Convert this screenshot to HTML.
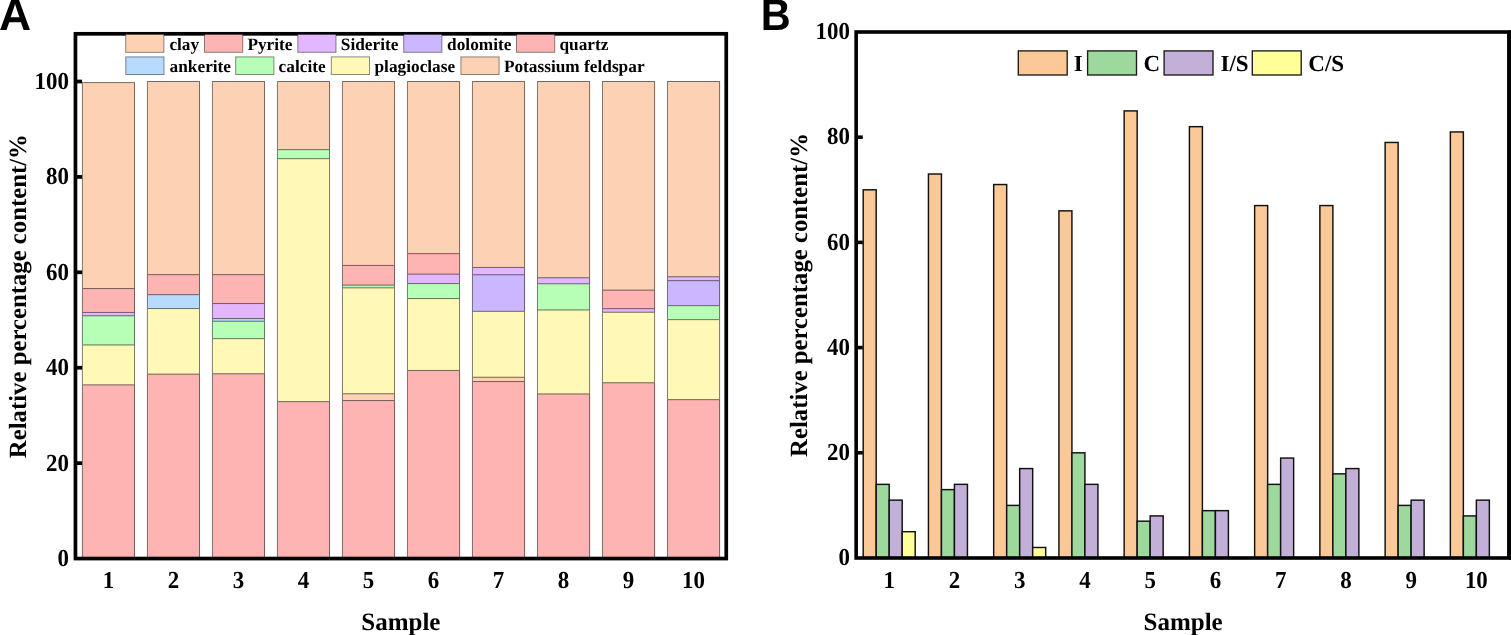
<!DOCTYPE html><html><head><meta charset="utf-8"><title>Mineral composition charts</title>
<style>html,body{margin:0;padding:0;background:#fff;overflow:hidden}svg{display:block}text{font-family:'Liberation Serif','Times New Roman',serif;font-weight:bold;fill:#000;text-rendering:geometricPrecision}</style></head><body>
<svg width="1511" height="635" viewBox="0 0 1511 635">
<rect x="0" y="0" width="1511" height="635" fill="#fff"/>
<g stroke-width="1">
<rect x="82.40" y="82.60" width="52.60" height="205.95" fill="#FDD1B4" stroke="none"/>
<rect x="82.40" y="288.55" width="52.60" height="23.90" fill="#FFB4B4" stroke="none"/>
<rect x="82.40" y="312.45" width="52.60" height="3.30" fill="#E3B7FF" stroke="none"/>
<rect x="82.40" y="315.75" width="52.60" height="29.20" fill="#B7FFB7" stroke="none"/>
<rect x="82.40" y="344.95" width="52.60" height="39.90" fill="#FFF8B7" stroke="none"/>
<rect x="82.40" y="384.85" width="52.60" height="173.70" fill="#FFB4B4" stroke="none"/>
<line x1="82.90" y1="82.60" x2="134.00" y2="82.60" stroke="rgba(0,0,0,0.55)"/>
<line x1="82.90" y1="288.55" x2="134.00" y2="288.55" stroke="rgba(0,0,0,0.55)"/>
<line x1="82.90" y1="312.45" x2="134.00" y2="312.45" stroke="rgba(0,0,0,0.55)"/>
<line x1="82.90" y1="315.75" x2="134.00" y2="315.75" stroke="rgba(0,0,0,0.55)"/>
<line x1="82.90" y1="344.95" x2="134.00" y2="344.95" stroke="rgba(0,0,0,0.55)"/>
<line x1="82.90" y1="384.85" x2="134.00" y2="384.85" stroke="rgba(0,0,0,0.55)"/>
<line x1="82.40" y1="82.10" x2="82.40" y2="558.55" stroke="rgba(0,0,0,0.5)"/>
<line x1="134.50" y1="82.10" x2="134.50" y2="558.55" stroke="rgba(0,0,0,0.5)"/>
<rect x="147.41" y="81.50" width="52.60" height="193.15" fill="#FDD1B4" stroke="none"/>
<rect x="147.41" y="274.65" width="52.60" height="20.00" fill="#FFB4B4" stroke="none"/>
<rect x="147.41" y="294.65" width="52.60" height="13.90" fill="#B7DBFF" stroke="none"/>
<rect x="147.41" y="308.55" width="52.60" height="65.60" fill="#FFF8B7" stroke="none"/>
<rect x="147.41" y="374.15" width="52.60" height="184.40" fill="#FFB4B4" stroke="none"/>
<line x1="147.91" y1="81.50" x2="199.01" y2="81.50" stroke="rgba(0,0,0,0.55)"/>
<line x1="147.91" y1="274.65" x2="199.01" y2="274.65" stroke="rgba(0,0,0,0.55)"/>
<line x1="147.91" y1="294.65" x2="199.01" y2="294.65" stroke="rgba(0,0,0,0.55)"/>
<line x1="147.91" y1="308.55" x2="199.01" y2="308.55" stroke="rgba(0,0,0,0.55)"/>
<line x1="147.91" y1="374.15" x2="199.01" y2="374.15" stroke="rgba(0,0,0,0.55)"/>
<line x1="147.41" y1="81.00" x2="147.41" y2="558.55" stroke="rgba(0,0,0,0.5)"/>
<line x1="199.51" y1="81.00" x2="199.51" y2="558.55" stroke="rgba(0,0,0,0.5)"/>
<rect x="212.42" y="81.50" width="52.60" height="193.15" fill="#FDD1B4" stroke="none"/>
<rect x="212.42" y="274.65" width="52.60" height="28.90" fill="#FFB4B4" stroke="none"/>
<rect x="212.42" y="303.55" width="52.60" height="15.00" fill="#E3B7FF" stroke="none"/>
<rect x="212.42" y="318.55" width="52.60" height="2.70" fill="#B7DBFF" stroke="none"/>
<rect x="212.42" y="321.25" width="52.60" height="17.40" fill="#B7FFB7" stroke="none"/>
<rect x="212.42" y="338.65" width="52.60" height="35.10" fill="#FFF8B7" stroke="none"/>
<rect x="212.42" y="373.75" width="52.60" height="184.80" fill="#FFB4B4" stroke="none"/>
<line x1="212.92" y1="81.50" x2="264.02" y2="81.50" stroke="rgba(0,0,0,0.55)"/>
<line x1="212.92" y1="274.65" x2="264.02" y2="274.65" stroke="rgba(0,0,0,0.55)"/>
<line x1="212.92" y1="303.55" x2="264.02" y2="303.55" stroke="rgba(0,0,0,0.55)"/>
<line x1="212.92" y1="318.55" x2="264.02" y2="318.55" stroke="rgba(0,0,0,0.55)"/>
<line x1="212.92" y1="321.25" x2="264.02" y2="321.25" stroke="rgba(0,0,0,0.55)"/>
<line x1="212.92" y1="338.65" x2="264.02" y2="338.65" stroke="rgba(0,0,0,0.55)"/>
<line x1="212.92" y1="373.75" x2="264.02" y2="373.75" stroke="rgba(0,0,0,0.55)"/>
<line x1="212.42" y1="81.00" x2="212.42" y2="558.55" stroke="rgba(0,0,0,0.5)"/>
<line x1="264.52" y1="81.00" x2="264.52" y2="558.55" stroke="rgba(0,0,0,0.5)"/>
<rect x="277.43" y="81.50" width="52.60" height="68.15" fill="#FDD1B4" stroke="none"/>
<rect x="277.43" y="149.65" width="52.60" height="9.00" fill="#B7FFB7" stroke="none"/>
<rect x="277.43" y="158.65" width="52.60" height="243.00" fill="#FFF8B7" stroke="none"/>
<rect x="277.43" y="401.65" width="52.60" height="156.90" fill="#FFB4B4" stroke="none"/>
<line x1="277.93" y1="81.50" x2="329.03" y2="81.50" stroke="rgba(0,0,0,0.55)"/>
<line x1="277.93" y1="149.65" x2="329.03" y2="149.65" stroke="rgba(0,0,0,0.55)"/>
<line x1="277.93" y1="158.65" x2="329.03" y2="158.65" stroke="rgba(0,0,0,0.55)"/>
<line x1="277.93" y1="401.65" x2="329.03" y2="401.65" stroke="rgba(0,0,0,0.55)"/>
<line x1="277.43" y1="81.00" x2="277.43" y2="558.55" stroke="rgba(0,0,0,0.5)"/>
<line x1="329.53" y1="81.00" x2="329.53" y2="558.55" stroke="rgba(0,0,0,0.5)"/>
<rect x="342.44" y="81.50" width="52.60" height="183.95" fill="#FDD1B4" stroke="none"/>
<rect x="342.44" y="265.45" width="52.60" height="19.70" fill="#FFB4B4" stroke="none"/>
<rect x="342.44" y="285.15" width="52.60" height="2.70" fill="#B7FFB7" stroke="none"/>
<rect x="342.44" y="287.85" width="52.60" height="105.90" fill="#FFF8B7" stroke="none"/>
<rect x="342.44" y="393.75" width="52.60" height="6.80" fill="#FDD1B4" stroke="none"/>
<rect x="342.44" y="400.55" width="52.60" height="158.00" fill="#FFB4B4" stroke="none"/>
<line x1="342.94" y1="81.50" x2="394.04" y2="81.50" stroke="rgba(0,0,0,0.55)"/>
<line x1="342.94" y1="265.45" x2="394.04" y2="265.45" stroke="rgba(0,0,0,0.55)"/>
<line x1="342.94" y1="285.15" x2="394.04" y2="285.15" stroke="rgba(0,0,0,0.55)"/>
<line x1="342.94" y1="287.85" x2="394.04" y2="287.85" stroke="rgba(0,0,0,0.55)"/>
<line x1="342.94" y1="393.75" x2="394.04" y2="393.75" stroke="rgba(0,0,0,0.55)"/>
<line x1="342.94" y1="400.55" x2="394.04" y2="400.55" stroke="rgba(0,0,0,0.55)"/>
<line x1="342.44" y1="81.00" x2="342.44" y2="558.55" stroke="rgba(0,0,0,0.5)"/>
<line x1="394.54" y1="81.00" x2="394.54" y2="558.55" stroke="rgba(0,0,0,0.5)"/>
<rect x="407.45" y="81.50" width="52.60" height="172.15" fill="#FDD1B4" stroke="none"/>
<rect x="407.45" y="253.65" width="52.60" height="20.50" fill="#FFB4B4" stroke="none"/>
<rect x="407.45" y="274.15" width="52.60" height="9.40" fill="#E3B7FF" stroke="none"/>
<rect x="407.45" y="283.55" width="52.60" height="15.00" fill="#B7FFB7" stroke="none"/>
<rect x="407.45" y="298.55" width="52.60" height="71.90" fill="#FFF8B7" stroke="none"/>
<rect x="407.45" y="370.45" width="52.60" height="188.10" fill="#FFB4B4" stroke="none"/>
<line x1="407.95" y1="81.50" x2="459.05" y2="81.50" stroke="rgba(0,0,0,0.55)"/>
<line x1="407.95" y1="253.65" x2="459.05" y2="253.65" stroke="rgba(0,0,0,0.55)"/>
<line x1="407.95" y1="274.15" x2="459.05" y2="274.15" stroke="rgba(0,0,0,0.55)"/>
<line x1="407.95" y1="283.55" x2="459.05" y2="283.55" stroke="rgba(0,0,0,0.55)"/>
<line x1="407.95" y1="298.55" x2="459.05" y2="298.55" stroke="rgba(0,0,0,0.55)"/>
<line x1="407.95" y1="370.45" x2="459.05" y2="370.45" stroke="rgba(0,0,0,0.55)"/>
<line x1="407.45" y1="81.00" x2="407.45" y2="558.55" stroke="rgba(0,0,0,0.5)"/>
<line x1="459.55" y1="81.00" x2="459.55" y2="558.55" stroke="rgba(0,0,0,0.5)"/>
<rect x="472.46" y="81.50" width="52.60" height="185.95" fill="#FDD1B4" stroke="none"/>
<rect x="472.46" y="267.45" width="52.60" height="7.30" fill="#E3B7FF" stroke="none"/>
<rect x="472.46" y="274.75" width="52.60" height="36.60" fill="#CBB7FF" stroke="none"/>
<rect x="472.46" y="311.35" width="52.60" height="65.90" fill="#FFF8B7" stroke="none"/>
<rect x="472.46" y="377.25" width="52.60" height="4.30" fill="#FDD1B4" stroke="none"/>
<rect x="472.46" y="381.55" width="52.60" height="177.00" fill="#FFB4B4" stroke="none"/>
<line x1="472.96" y1="81.50" x2="524.06" y2="81.50" stroke="rgba(0,0,0,0.55)"/>
<line x1="472.96" y1="267.45" x2="524.06" y2="267.45" stroke="rgba(0,0,0,0.55)"/>
<line x1="472.96" y1="274.75" x2="524.06" y2="274.75" stroke="rgba(0,0,0,0.55)"/>
<line x1="472.96" y1="311.35" x2="524.06" y2="311.35" stroke="rgba(0,0,0,0.55)"/>
<line x1="472.96" y1="377.25" x2="524.06" y2="377.25" stroke="rgba(0,0,0,0.55)"/>
<line x1="472.96" y1="381.55" x2="524.06" y2="381.55" stroke="rgba(0,0,0,0.55)"/>
<line x1="472.46" y1="81.00" x2="472.46" y2="558.55" stroke="rgba(0,0,0,0.5)"/>
<line x1="524.56" y1="81.00" x2="524.56" y2="558.55" stroke="rgba(0,0,0,0.5)"/>
<rect x="537.47" y="81.50" width="52.60" height="196.25" fill="#FDD1B4" stroke="none"/>
<rect x="537.47" y="277.75" width="52.60" height="6.00" fill="#E3B7FF" stroke="none"/>
<rect x="537.47" y="283.75" width="52.60" height="26.20" fill="#B7FFB7" stroke="none"/>
<rect x="537.47" y="309.95" width="52.60" height="84.00" fill="#FFF8B7" stroke="none"/>
<rect x="537.47" y="393.95" width="52.60" height="164.60" fill="#FFB4B4" stroke="none"/>
<line x1="537.97" y1="81.50" x2="589.07" y2="81.50" stroke="rgba(0,0,0,0.55)"/>
<line x1="537.97" y1="277.75" x2="589.07" y2="277.75" stroke="rgba(0,0,0,0.55)"/>
<line x1="537.97" y1="283.75" x2="589.07" y2="283.75" stroke="rgba(0,0,0,0.55)"/>
<line x1="537.97" y1="309.95" x2="589.07" y2="309.95" stroke="rgba(0,0,0,0.55)"/>
<line x1="537.97" y1="393.95" x2="589.07" y2="393.95" stroke="rgba(0,0,0,0.55)"/>
<line x1="537.47" y1="81.00" x2="537.47" y2="558.55" stroke="rgba(0,0,0,0.5)"/>
<line x1="589.57" y1="81.00" x2="589.57" y2="558.55" stroke="rgba(0,0,0,0.5)"/>
<rect x="602.48" y="81.50" width="52.60" height="208.65" fill="#FDD1B4" stroke="none"/>
<rect x="602.48" y="290.15" width="52.60" height="18.50" fill="#FFB4B4" stroke="none"/>
<rect x="602.48" y="308.65" width="52.60" height="3.60" fill="#E3B7FF" stroke="none"/>
<rect x="602.48" y="312.25" width="52.60" height="70.50" fill="#FFF8B7" stroke="none"/>
<rect x="602.48" y="382.75" width="52.60" height="175.80" fill="#FFB4B4" stroke="none"/>
<line x1="602.98" y1="81.50" x2="654.08" y2="81.50" stroke="rgba(0,0,0,0.55)"/>
<line x1="602.98" y1="290.15" x2="654.08" y2="290.15" stroke="rgba(0,0,0,0.55)"/>
<line x1="602.98" y1="308.65" x2="654.08" y2="308.65" stroke="rgba(0,0,0,0.55)"/>
<line x1="602.98" y1="312.25" x2="654.08" y2="312.25" stroke="rgba(0,0,0,0.55)"/>
<line x1="602.98" y1="382.75" x2="654.08" y2="382.75" stroke="rgba(0,0,0,0.55)"/>
<line x1="602.48" y1="81.00" x2="602.48" y2="558.55" stroke="rgba(0,0,0,0.5)"/>
<line x1="654.58" y1="81.00" x2="654.58" y2="558.55" stroke="rgba(0,0,0,0.5)"/>
<rect x="667.49" y="81.50" width="52.60" height="195.25" fill="#FDD1B4" stroke="none"/>
<rect x="667.49" y="276.75" width="52.60" height="3.90" fill="#E3B7FF" stroke="none"/>
<rect x="667.49" y="280.65" width="52.60" height="25.00" fill="#CBB7FF" stroke="none"/>
<rect x="667.49" y="305.65" width="52.60" height="14.00" fill="#B7FFB7" stroke="none"/>
<rect x="667.49" y="319.65" width="52.60" height="80.00" fill="#FFF8B7" stroke="none"/>
<rect x="667.49" y="399.65" width="52.60" height="158.90" fill="#FFB4B4" stroke="none"/>
<line x1="667.99" y1="81.50" x2="719.09" y2="81.50" stroke="rgba(0,0,0,0.55)"/>
<line x1="667.99" y1="276.75" x2="719.09" y2="276.75" stroke="rgba(0,0,0,0.55)"/>
<line x1="667.99" y1="280.65" x2="719.09" y2="280.65" stroke="rgba(0,0,0,0.55)"/>
<line x1="667.99" y1="305.65" x2="719.09" y2="305.65" stroke="rgba(0,0,0,0.55)"/>
<line x1="667.99" y1="319.65" x2="719.09" y2="319.65" stroke="rgba(0,0,0,0.55)"/>
<line x1="667.99" y1="399.65" x2="719.09" y2="399.65" stroke="rgba(0,0,0,0.55)"/>
<line x1="667.49" y1="81.00" x2="667.49" y2="558.55" stroke="rgba(0,0,0,0.5)"/>
<line x1="719.59" y1="81.00" x2="719.59" y2="558.55" stroke="rgba(0,0,0,0.5)"/>
</g>
<g fill="none" stroke="#000" stroke-width="3.70" stroke-linecap="square">
<rect x="75.45" y="33.80" width="650.80" height="524.75"/>
<line x1="75.45" y1="463.14" x2="82.05" y2="463.14" stroke-linecap="butt"/>
<line x1="75.45" y1="367.73" x2="82.05" y2="367.73" stroke-linecap="butt"/>
<line x1="75.45" y1="272.32" x2="82.05" y2="272.32" stroke-linecap="butt"/>
<line x1="75.45" y1="176.91" x2="82.05" y2="176.91" stroke-linecap="butt"/>
<line x1="75.45" y1="81.50" x2="82.05" y2="81.50" stroke-linecap="butt"/>
</g>
<text transform="translate(68.90 565.95) scale(0.94 1)" text-anchor="end" font-size="24.4">0</text>
<text transform="translate(68.90 470.54) scale(0.94 1)" text-anchor="end" font-size="24.4">20</text>
<text transform="translate(68.90 375.13) scale(0.94 1)" text-anchor="end" font-size="24.4">40</text>
<text transform="translate(68.90 279.72) scale(0.94 1)" text-anchor="end" font-size="24.4">60</text>
<text transform="translate(68.90 184.31) scale(0.94 1)" text-anchor="end" font-size="24.4">80</text>
<text transform="translate(68.90 88.90) scale(0.94 1)" text-anchor="end" font-size="24.4">100</text>
<text transform="translate(108.45 588.00) scale(0.94 1)" text-anchor="middle" font-size="24.4">1</text>
<text transform="translate(173.46 588.00) scale(0.94 1)" text-anchor="middle" font-size="24.4">2</text>
<text transform="translate(238.47 588.00) scale(0.94 1)" text-anchor="middle" font-size="24.4">3</text>
<text transform="translate(303.48 588.00) scale(0.94 1)" text-anchor="middle" font-size="24.4">4</text>
<text transform="translate(368.49 588.00) scale(0.94 1)" text-anchor="middle" font-size="24.4">5</text>
<text transform="translate(433.50 588.00) scale(0.94 1)" text-anchor="middle" font-size="24.4">6</text>
<text transform="translate(498.51 588.00) scale(0.94 1)" text-anchor="middle" font-size="24.4">7</text>
<text transform="translate(563.52 588.00) scale(0.94 1)" text-anchor="middle" font-size="24.4">8</text>
<text transform="translate(628.53 588.00) scale(0.94 1)" text-anchor="middle" font-size="24.4">9</text>
<text transform="translate(693.54 588.00) scale(0.94 1)" text-anchor="middle" font-size="24.4">10</text>
<text x="400.85" y="629.70" text-anchor="middle" font-size="25">Sample</text>
<text transform="translate(26.4 296.17) rotate(-90)" text-anchor="middle" font-size="24.75">Relative percentage content/%</text>
<rect x="125.70" y="34.40" width="38.20" height="17.90" fill="#FDD1B4" stroke="rgba(0,0,0,0.45)" stroke-width="1"/>
<text x="169.40" y="49.80" font-size="17.30">clay</text>
<rect x="204.50" y="34.40" width="38.20" height="17.90" fill="#FFB4B4" stroke="rgba(0,0,0,0.45)" stroke-width="1"/>
<text x="247.40" y="49.80" font-size="17.30">Pyrite</text>
<rect x="297.80" y="34.40" width="38.20" height="17.90" fill="#E3B7FF" stroke="rgba(0,0,0,0.45)" stroke-width="1"/>
<text x="340.80" y="49.80" font-size="17.30">Siderite</text>
<rect x="403.70" y="34.40" width="38.20" height="17.90" fill="#CBB7FF" stroke="rgba(0,0,0,0.45)" stroke-width="1"/>
<text x="447.10" y="49.80" font-size="17.30">dolomite</text>
<rect x="516.50" y="34.40" width="38.20" height="17.90" fill="#FFB4B4" stroke="rgba(0,0,0,0.45)" stroke-width="1"/>
<text x="559.50" y="49.80" font-size="17.30">quartz</text>
<rect x="125.80" y="56.90" width="38.20" height="17.60" fill="#B7DBFF" stroke="rgba(0,0,0,0.45)" stroke-width="1"/>
<text x="169.60" y="71.90" font-size="17.30">ankerite</text>
<rect x="235.70" y="56.90" width="38.20" height="17.60" fill="#B7FFB7" stroke="rgba(0,0,0,0.45)" stroke-width="1"/>
<text x="278.60" y="71.90" font-size="17.30">calcite</text>
<rect x="331.30" y="56.90" width="38.20" height="17.60" fill="#FFF8B7" stroke="rgba(0,0,0,0.45)" stroke-width="1"/>
<text x="374.50" y="71.90" font-size="17.30">plagioclase</text>
<rect x="460.90" y="56.90" width="38.20" height="17.60" fill="#FDD1B4" stroke="rgba(0,0,0,0.45)" stroke-width="1"/>
<text x="503.90" y="71.90" font-size="17.30">Potassium feldspar</text>
<g stroke="#111" stroke-width="1.45">
<rect x="863.20" y="189.80" width="13.00" height="368.20" fill="#FBC897"/>
<rect x="876.20" y="484.36" width="13.00" height="73.64" fill="#9DD89D"/>
<rect x="889.20" y="500.14" width="13.00" height="57.86" fill="#C3B0D8"/>
<rect x="902.20" y="531.70" width="13.00" height="26.30" fill="#FFFF99"/>
<rect x="928.44" y="174.02" width="13.00" height="383.98" fill="#FBC897"/>
<rect x="941.44" y="489.62" width="13.00" height="68.38" fill="#9DD89D"/>
<rect x="954.44" y="484.36" width="13.00" height="73.64" fill="#C3B0D8"/>
<rect x="993.68" y="184.54" width="13.00" height="373.46" fill="#FBC897"/>
<rect x="1006.68" y="505.40" width="13.00" height="52.60" fill="#9DD89D"/>
<rect x="1019.68" y="468.58" width="13.00" height="89.42" fill="#C3B0D8"/>
<rect x="1032.68" y="547.48" width="13.00" height="10.52" fill="#FFFF99"/>
<rect x="1058.92" y="210.84" width="13.00" height="347.16" fill="#FBC897"/>
<rect x="1071.92" y="452.80" width="13.00" height="105.20" fill="#9DD89D"/>
<rect x="1084.92" y="484.36" width="13.00" height="73.64" fill="#C3B0D8"/>
<rect x="1124.16" y="110.90" width="13.00" height="447.10" fill="#FBC897"/>
<rect x="1137.16" y="521.18" width="13.00" height="36.82" fill="#9DD89D"/>
<rect x="1150.16" y="515.92" width="13.00" height="42.08" fill="#C3B0D8"/>
<rect x="1189.40" y="126.68" width="13.00" height="431.32" fill="#FBC897"/>
<rect x="1202.40" y="510.66" width="13.00" height="47.34" fill="#9DD89D"/>
<rect x="1215.40" y="510.66" width="13.00" height="47.34" fill="#C3B0D8"/>
<rect x="1254.64" y="205.58" width="13.00" height="352.42" fill="#FBC897"/>
<rect x="1267.64" y="484.36" width="13.00" height="73.64" fill="#9DD89D"/>
<rect x="1280.64" y="458.06" width="13.00" height="99.94" fill="#C3B0D8"/>
<rect x="1319.88" y="205.58" width="13.00" height="352.42" fill="#FBC897"/>
<rect x="1332.88" y="473.84" width="13.00" height="84.16" fill="#9DD89D"/>
<rect x="1345.88" y="468.58" width="13.00" height="89.42" fill="#C3B0D8"/>
<rect x="1385.12" y="142.46" width="13.00" height="415.54" fill="#FBC897"/>
<rect x="1398.12" y="505.40" width="13.00" height="52.60" fill="#9DD89D"/>
<rect x="1411.12" y="500.14" width="13.00" height="57.86" fill="#C3B0D8"/>
<rect x="1450.36" y="131.94" width="13.00" height="426.06" fill="#FBC897"/>
<rect x="1463.36" y="515.92" width="13.00" height="42.08" fill="#9DD89D"/>
<rect x="1476.36" y="500.14" width="13.00" height="57.86" fill="#C3B0D8"/>
</g>
<g fill="none" stroke="#000" stroke-width="3.60" stroke-linecap="square">
<rect x="856.15" y="32.00" width="652.70" height="526.00"/>
<line x1="856.15" y1="452.80" x2="862.75" y2="452.80" stroke-linecap="butt"/>
<line x1="856.15" y1="347.60" x2="862.75" y2="347.60" stroke-linecap="butt"/>
<line x1="856.15" y1="242.40" x2="862.75" y2="242.40" stroke-linecap="butt"/>
<line x1="856.15" y1="137.20" x2="862.75" y2="137.20" stroke-linecap="butt"/>
</g>
<rect x="1508.6" y="30.20" width="3" height="529.60" fill="#000"/>
<text transform="translate(849.90 565.10) scale(0.94 1)" text-anchor="end" font-size="24.4">0</text>
<text transform="translate(849.90 459.90) scale(0.94 1)" text-anchor="end" font-size="24.4">20</text>
<text transform="translate(849.90 354.70) scale(0.94 1)" text-anchor="end" font-size="24.4">40</text>
<text transform="translate(849.90 249.50) scale(0.94 1)" text-anchor="end" font-size="24.4">60</text>
<text transform="translate(849.90 144.30) scale(0.94 1)" text-anchor="end" font-size="24.4">80</text>
<text transform="translate(849.90 39.10) scale(0.94 1)" text-anchor="end" font-size="24.4">100</text>
<text transform="translate(889.20 588.00) scale(0.94 1)" text-anchor="middle" font-size="24.4">1</text>
<text transform="translate(954.44 588.00) scale(0.94 1)" text-anchor="middle" font-size="24.4">2</text>
<text transform="translate(1019.68 588.00) scale(0.94 1)" text-anchor="middle" font-size="24.4">3</text>
<text transform="translate(1084.92 588.00) scale(0.94 1)" text-anchor="middle" font-size="24.4">4</text>
<text transform="translate(1150.16 588.00) scale(0.94 1)" text-anchor="middle" font-size="24.4">5</text>
<text transform="translate(1215.40 588.00) scale(0.94 1)" text-anchor="middle" font-size="24.4">6</text>
<text transform="translate(1280.64 588.00) scale(0.94 1)" text-anchor="middle" font-size="24.4">7</text>
<text transform="translate(1345.88 588.00) scale(0.94 1)" text-anchor="middle" font-size="24.4">8</text>
<text transform="translate(1411.12 588.00) scale(0.94 1)" text-anchor="middle" font-size="24.4">9</text>
<text transform="translate(1476.36 588.00) scale(0.94 1)" text-anchor="middle" font-size="24.4">10</text>
<text x="1183.10" y="629.70" text-anchor="middle" font-size="25">Sample</text>
<text transform="translate(806.6 295.00) rotate(-90)" text-anchor="middle" font-size="24.75">Relative percentage content/%</text>
<rect x="1018.30" y="50.90" width="48.90" height="24.10" fill="#FBC897" stroke="#1a1a1a" stroke-width="1.35"/>
<text x="1073.80" y="71.10" font-size="23">I</text>
<rect x="1087.60" y="50.90" width="48.90" height="24.10" fill="#9DD89D" stroke="#1a1a1a" stroke-width="1.35"/>
<text x="1143.60" y="71.10" font-size="23">C</text>
<rect x="1164.10" y="50.90" width="48.90" height="24.10" fill="#C3B0D8" stroke="#1a1a1a" stroke-width="1.35"/>
<text x="1220.50" y="71.10" font-size="23">I/S</text>
<rect x="1252.30" y="50.90" width="48.90" height="24.10" fill="#FFFF99" stroke="#1a1a1a" stroke-width="1.35"/>
<text x="1308.30" y="71.10" font-size="23">C/S</text>
<text x="-1.1" y="29.8" font-size="44.5" style="font-family:'Liberation Sans',Arial,sans-serif">A</text>
<text transform="translate(763.7 0) scale(0.933 1)" x="-3.2" y="29.8" font-size="44.5" style="font-family:'Liberation Sans',Arial,sans-serif">B</text>
</svg></body></html>
